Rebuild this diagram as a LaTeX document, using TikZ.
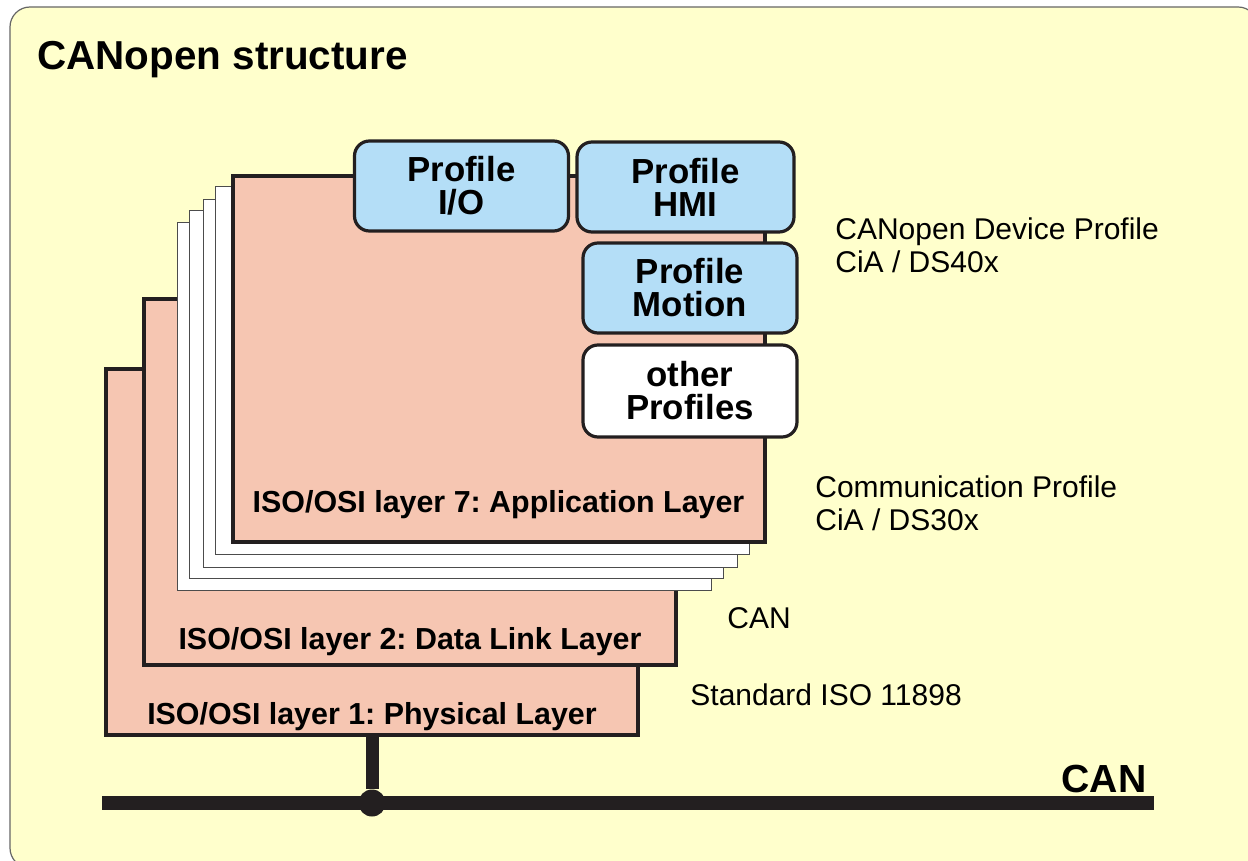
\documentclass[tikz,border=0pt]{standalone}
\usepackage{fontspec}
\setmainfont{Liberation Sans}
\frenchspacing
\usetikzlibrary{calc,positioning}
\definecolor{paleyellow}{RGB}{255,255,204}
\definecolor{salmon}{RGB}{246,198,178}
\definecolor{skyblue}{RGB}{180,222,247}
\definecolor{inkblack}{RGB}{35,31,32}

\begin{document}
\begin{tikzpicture}[x=0.5pt,y=-0.5pt]
\tikzstyle{layerbox}=[draw=inkblack,line width=2pt,fill=salmon,minimum width=266pt,minimum height=183pt,inner sep=0]
\tikzstyle{sheet}=[draw=black!70,line width=0.5pt,fill=white,minimum width=267pt,minimum height=184pt,inner sep=0]
\tikzstyle{layer text}=[anchor=base,inner sep=0,font=\fontsize{15.2}{18}\selectfont\bfseries]
\tikzstyle{profile}=[draw=inkblack,line width=1.6pt,rounded corners=7.5pt,fill=skyblue,minimum width=107pt,minimum height=45pt,align=center,inner sep=0,font=\fontsize{17.4}{16.5}\selectfont\bfseries]
\tikzstyle{side text}=[anchor=north west,inner sep=0,align=left,font=\fontsize{15}{16.5}\selectfont]
\tikzstyle{junction}=[circle,fill=inkblack,inner sep=0,minimum size=13.5pt]

\useasboundingbox (0,0) rectangle (1248,861);
% background sheet
\draw[draw=black!60,line width=0.6pt,fill=paleyellow,rounded corners=10pt] (10,7) rectangle (1258,868);
\node(title)[anchor=base west,inner sep=0,font=\fontsize{20.2}{24}\selectfont\bfseries] at (37,69.5) {CANopen structure};

% layers 1 and 2
\node(l1)[layerbox] at (372,552) {};
\node[layer text] at ([yshift=6.5pt]l1.south) {ISO/OSI layer 1: Physical Layer};
\node(l2)[layerbox] at (410,482) {};
\node[layer text] at ([yshift=9pt]l2.south) {ISO/OSI layer 2: Data Link Layer};

% layers 3 to 6
\foreach \sx/\sy [count=\i] in {444/406.5,456.5/394.5,470/383.5,482/370.5}
  \node(sheet\i)[sheet] at (\sx,\sy) {};

% layer 7
\node(l7)[layerbox] at (498.5,359) {};
\node[layer text] at ([yshift=16pt]l7.south) {ISO/OSI layer 7: Application Layer};

% device profiles
\node(pio)[profile] at (461.5,186) {Profile\\I/O};
\node(phmi)[profile,minimum width=108.5pt] at (685.5,187) {Profile\\HMI};
\node(pmot)[profile] at (690,288) {Profile\\Motion};
\node(pother)[profile,fill=white,minimum height=46pt] at (690,391) {other\\Profiles};

% side notes
\node(devprof)[side text] at (835,217) {CANopen Device Profile\\CiA / DS40x};
\node(commprof)[side text] at (815,475) {Communication Profile\\CiA / DS30x};
\node(cantext)[side text,anchor=base west] at (727,628) {CAN};
\node(isotext)[side text,anchor=base west] at (690,705) {Standard ISO 11898};

% bus
\coordinate (busL) at (102,803);
\coordinate (busR) at (1154,803);
\node(jn)[junction] at (372,803) {};
\draw[inkblack,line width=7pt] (busL) -- (busR);
\draw[inkblack,line width=6.5pt] (l1.south) -- (jn);
\node(buslabel)[anchor=base east,inner sep=0,font=\fontsize{19.6}{24}\selectfont\bfseries] at (1147,792) {CAN};

\end{tikzpicture}
\end{document}
